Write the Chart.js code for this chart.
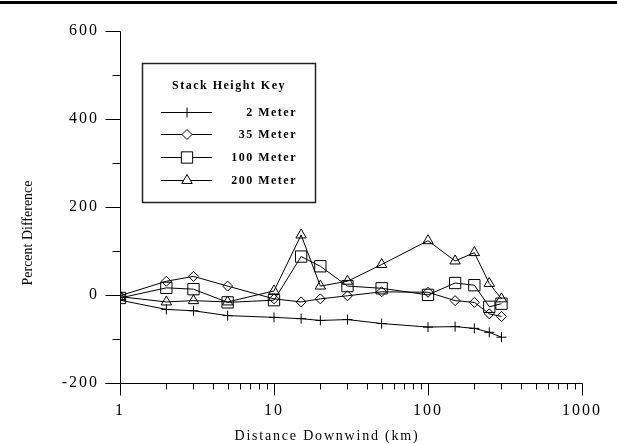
<!DOCTYPE html>
<html>
<head>
<meta charset="utf-8">
<script src="https://cdn.jsdelivr.net/npm/chart.js@4"></script>
<style>
  html, body { margin: 0; padding: 0; background: #fff; }
</style>
</head>
<body>
<canvas id="myChart" width="617" height="444"></canvas>
<script>
// distance downwind (km), same for every series
const distances = [1, 2, 3, 5, 10, 15, 20, 30, 50, 100, 150, 200, 250, 300];

// percent difference by stack height
const meter2 = [-12, -33, -36, -47, -51, -54, -58, -56, -65, -73, -72, -76, -85, -96];
const meter35 = [-2, 31, 42, 20, -9, -16, -9, -2, 7, 6, -13, -17, -43, -49];
const meter100 = [-7, 16, 13, -17, -12, 87, 65, 20, 15, 0, 27, 22, -27, -20];
const meter200 = [-4, -16, -13, -16, 9, 136, 20, 31, 69, 123, 77, 96, 26, -9];

const seriesNames = ["2 Meter", "35 Meter", "100 Meter", "200 Meter"];
const pointStyles = ["cross", "rectRot", "rect", "triangle"];
const pointSizes = [5, 5, 8, 6];

const xTicks = [1, 10, 100, 1000];
const yTicks = [-200, 0, 200, 400, 600];

const xTitle = "Distance Downwind (km)";
const yTitle = "Percent Difference";
const legendTitle = "Stack Height Key";

const serif = "'Liberation Serif', 'Times New Roman', serif";

// builds {x, y} pairs for a log x axis
function toPoints(values) {
  let pts = [];
  for (let i = 0; i < distances.length; i++) {
    pts.push({ x: distances[i], y: values[i] });
  }
  return pts;
}

const allSeries = [meter2, meter35, meter100, meter200];
let datasets = [];
for (let i = 0; i < allSeries.length; i++) {
  datasets.push({
    label: seriesNames[i],
    data: toPoints(allSeries[i]),
    borderColor: "#000",
    borderWidth: 1,
    tension: 0,
    pointStyle: pointStyles[i],
    pointRadius: pointSizes[i],
    pointBorderColor: "#000",
    pointBorderWidth: 1,
    pointBackgroundColor: "rgba(0,0,0,0)",
  });
}

// axes, tick marks, titles, legend box and the top rule
const decorations = {
  id: "decorations",
  beforeDraw(chart) {
    // wide spacing on tick labels
    chart.ctx.letterSpacing = "2px";
  },
  afterDraw(chart) {
    const ctx = chart.ctx;
    const xs = chart.scales.x;
    const ys = chart.scales.y;
    const x0 = Math.round(xs.getPixelForValue(1)) + 0.5;
    const x1 = Math.round(xs.getPixelForValue(1000)) + 0.5;
    const yTop = Math.round(ys.getPixelForValue(600)) + 0.5;
    const yBot = Math.round(ys.getPixelForValue(-200)) + 0.5;

    ctx.save();
    ctx.fillStyle = "#000";
    ctx.fillRect(0, 1, 617, 3);

    ctx.strokeStyle = "#000";
    ctx.lineWidth = 1;
    ctx.beginPath();
    // y axis
    ctx.moveTo(x0, yTop);
    ctx.lineTo(x0, yBot + 12);
    // x axis
    ctx.moveTo(x0 - 15, yBot);
    ctx.lineTo(x1, yBot);
    // y ticks every 100
    for (let v = -200; v <= 600; v += 100) {
      const y = Math.round(ys.getPixelForValue(v)) + 0.5;
      const len = v % 200 === 0 ? 15 : 8;
      ctx.moveTo(x0 - len, y);
      ctx.lineTo(x0, y);
    }
    // x ticks, log decades
    for (let d = 1; d < 1000; d *= 10) {
      for (let m = 2; m <= 9; m++) {
        const x = Math.round(xs.getPixelForValue(d * m)) + 0.5;
        ctx.moveTo(x, yBot);
        ctx.lineTo(x, yBot + 6);
      }
      const xm = Math.round(xs.getPixelForValue(d * 10)) + 0.5;
      ctx.moveTo(xm, yBot);
      ctx.lineTo(xm, yBot + 12);
    }
    ctx.stroke();

    // axis titles
    ctx.fillStyle = "#000";
    ctx.textBaseline = "middle";
    ctx.textAlign = "center";
    ctx.letterSpacing = "1.8px";
    ctx.font = "14px " + serif;
    ctx.fillText(xTitle, 327, 436);
    ctx.letterSpacing = "0px";
    ctx.save();
    ctx.translate(28, 233);
    ctx.rotate(-Math.PI / 2);
    ctx.fillText(yTitle, 0, 0);
    ctx.restore();

    // legend
    ctx.strokeStyle = "#222";
    ctx.lineWidth = 1.5;
    ctx.strokeRect(142.5, 63.5, 173, 139);
    ctx.letterSpacing = "1.5px";
    ctx.font = "bold 12px " + serif;
    ctx.textAlign = "center";
    ctx.fillText(legendTitle, 229, 86);
    const rowY = [112, 134, 157, 180];
    ctx.lineWidth = 1;
    ctx.strokeStyle = "#000";
    for (let i = 0; i < seriesNames.length; i++) {
      const y = rowY[i] + 0.5;
      ctx.beginPath();
      ctx.moveTo(161, y);
      ctx.lineTo(212, y);
      ctx.stroke();
      ctx.fillStyle = "#fff";
      Chart.helpers.drawPoint(ctx, {
        pointStyle: pointStyles[i],
        radius: pointSizes[i],
        rotation: 0,
        borderWidth: 1,
      }, 187, y);
      ctx.fillStyle = "#000";
      ctx.textAlign = "right";
      ctx.fillText(seriesNames[i], 297, rowY[i] + 1);
    }
    ctx.restore();
  },
};

const myChart = new Chart(document.getElementById("myChart"), {
  type: "line",
  data: { datasets: datasets },
  options: {
    responsive: false,
    animation: false,
    devicePixelRatio: 1,
    layout: { padding: { left: 0, right: 35, top: 25, bottom: 0 } },
    plugins: {
      legend: { display: false },
      tooltip: { enabled: false },
    },
    scales: {
      x: {
        type: "logarithmic",
        min: 1,
        max: 1000,
        grid: { display: false, drawTicks: false },
        border: { display: false },
        afterFit: function (scale) { scale.height = 61; },
        afterBuildTicks: function (scale) {
          scale.ticks = xTicks.map(function (v) { return { value: v }; });
        },
        ticks: {
          color: "#000",
          font: { family: serif, size: 16 },
          padding: 18,
          maxRotation: 0,
          autoSkip: false,
          callback: function (value) { return String(value); },
        },
      },
      y: {
        min: -200,
        max: 600,
        grid: { display: false, drawTicks: false },
        border: { display: false },
        afterFit: function (scale) { scale.width = 120; },
        afterBuildTicks: function (scale) {
          scale.ticks = yTicks.map(function (v) { return { value: v }; });
        },
        ticks: {
          color: "#000",
          font: { family: serif, size: 16 },
          padding: 21,
          callback: function (value) { return String(value); },
        },
      },
    },
  },
  plugins: [decorations],
});
</script>
</body>
</html>
